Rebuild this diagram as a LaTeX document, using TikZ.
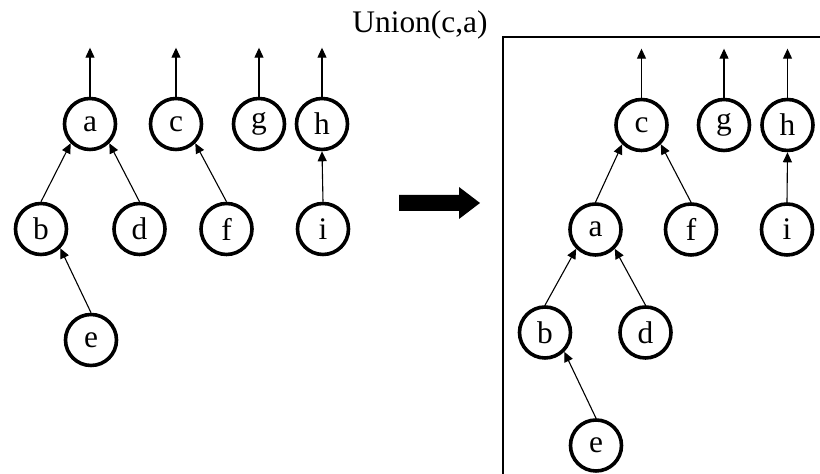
\documentclass[tikz,border=0pt]{standalone}
\usepackage{fontspec}
\setmainfont{Liberation Serif}
\usetikzlibrary{arrows.meta,positioning}

\tikzset{
    elem/.style={circle,draw,line width=1.8pt,minimum size=25.5pt,inner sep=0pt,
        font=\fontsize{15.7}{18}\selectfont},
    link/.style={line width=0.55pt,-{Triangle[length=5pt,width=4.5pt]}},
}

\begin{document}
\begin{tikzpicture}[x=10pt,y=10pt]
        \useasboundingbox (0,0) rectangle (41,23.7);
        % forest before the union
        \begin{scope}
            \node[elem] (la) at (4.5,17.5) {a};
            \node[elem] (lc) at (8.8,17.5) {c};
            \node[elem] (lg) at (12.95,17.5) {g};
            \node[elem] (lh) at (16.1,17.5) {h};
            \node[elem] (lb) at (2.05,12.25) {b};
            \node[elem] (ld) at (6.975,12.25) {d};
            \node[elem] (lf) at (11.325,12.25) {f};
            \node[elem] (li) at (16.15,12.25) {i};
            \node[elem] (le) at (4.55,6.7) {e};
            \foreach \s/\t in {lb/la.south west,ld/la.south east,le/lb.south east,lf/lc.south east,li/lh.south}
                \draw[link] (\s.north)--(\t);
        \end{scope}
        % big arrow and title
        \fill (19.95,13.15)--(22.95,13.15)--(22.95,12.75)--(24,13.55)--(22.95,14.35)--(22.95,13.95)--(19.95,13.95)--cycle;
        \node[anchor=base,font=\fontsize{15.7}{18}\selectfont] (title) at (21,22.05) {Union(c,a)};
        \draw[line width=0.55pt] (25.15,0)--(25.15,21.85)--(41,21.85);
        % forest after the union
        \begin{scope}
            \node[elem] (rc) at (32.075,17.45) {c};
            \node[elem] (rg) at (36.2,17.45) {g};
            \node[elem] (rh) at (39.375,17.45) {h};
            \node[elem] (ra) at (29.775,12.225) {a};
            \node[elem] (rf) at (34.55,12.225) {f};
            \node[elem] (ri) at (39.35,12.225) {i};
            \node[elem] (rb) at (27.25,7.075) {b};
            \node[elem] (rd) at (32.275,7.075) {d};
            \node[elem] (re) at (29.8,1.425) {e};
            \foreach \s/\t in {ra/rc.south west,rf/rc.south east,rb/ra.south west,rd/ra.south east,re/rb.south east,ri/rh.south}
                \draw[link] (\s.north)--(\t);
        \end{scope}
        % roots point to themselves
        \foreach \r in {la,lc,lg,lh,rc,rg,rh}{
            \coordinate[above=24.5pt of \r] (\r-up);
            \draw[link] (\r)--(\r-up);
        }
    \end{tikzpicture}
\end{document}
